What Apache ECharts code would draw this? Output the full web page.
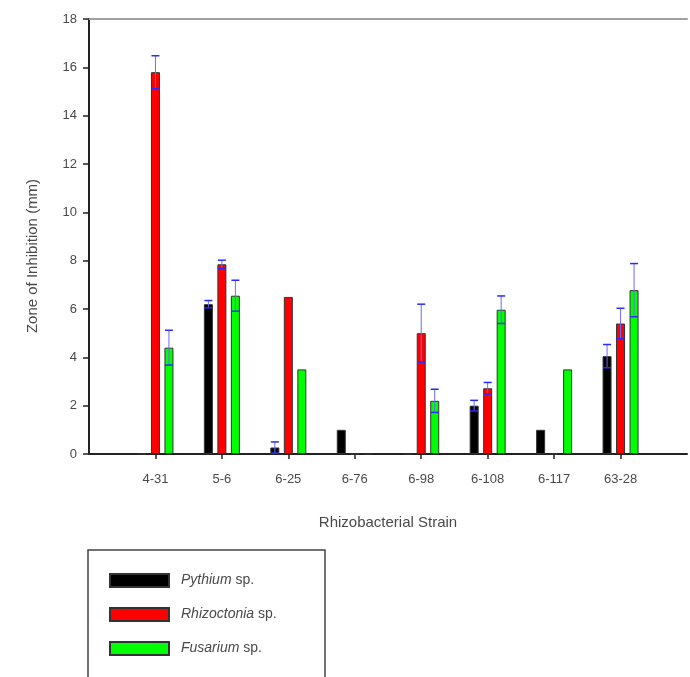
<!DOCTYPE html>
<html>
<head>
<meta charset="utf-8">
<script src="https://cdn.jsdelivr.net/npm/echarts@6/dist/echarts.min.js"></script>
<style>
  html, body { margin: 0; padding: 0; background: #fff; }
  #chart { width: 690px; height: 677px; }
</style>
</head>
<body>
<div id="chart"></div>
<script>
// strains on the x axis
var strains = ["4-31", "5-6", "6-25", "6-76", "6-98", "6-108", "6-117", "63-28"];
var pathogens = ["Pythium", "Rhizoctonia", "Fusarium"];
var yTicks = [0, 2, 4, 6, 8, 10, 12, 14, 16, 18];

// zone of inhibition (mm) per pathogen
var pythium     = [0,    6.2, 0.27, 1.0, 0,   2.0,  1.0, 4.05];
var rhizoctonia = [15.8, 7.85, 6.5, 0,   5.0, 2.72, 0,   5.4];
var fusarium    = [4.4,  6.55, 3.5, 0,   2.2, 5.97, 3.5, 6.78];

// error (+/-)
var pythiumErr     = [0,    0.15, 0.23, 0, 0,    0.22, 0, 0.48];
var rhizoctoniaErr = [0.68, 0.17, 0,    0, 1.2,  0.24, 0, 0.63];
var fusariumErr    = [0.72, 0.64, 0,    0, 0.48, 0.57, 0, 1.1];

var colors = ["#000000", "#ff0000", "#00ff00"];
var textColor = "#4a4a4a";

// one empty slot each side so the groups sit inside the axis like the original
var cats = [""].concat(strains, [""]);
function pad(arr) { return [null].concat(arr, [null]); }

function barSeries(idx, vals) {
  return {
    name: pathogens[idx],
    type: "bar",
    barWidth: 9,
    barGap: "50%",
    itemStyle: { color: colors[idx], borderColor: "#333", borderWidth: 1 },
    data: pad(vals)
  };
}

function errSeries(offset, vals, errs) {
  var data = [];
  vals.forEach(function (v, i) {
    if (errs[i] > 0) data.push([i + 1, v, errs[i]]);
  });
  return {
    type: "custom",
    z: 10,
    silent: true,
    encode: { x: 0, y: 1 },
    data: data,
    renderItem: function (params, api) {
      var x = api.value(0), v = api.value(1), e = api.value(2);
      var top = api.coord([x, v + e]);
      var bot = api.coord([x, v - e]);
      var cx = top[0] + offset;
      var hw = 4;
      return {
        type: "group",
        children: [
          { type: "line", shape: { x1: cx, y1: top[1], x2: cx, y2: bot[1] }, style: { stroke: "#6a6aff", lineWidth: 1 } },
          { type: "line", shape: { x1: cx - hw, y1: top[1], x2: cx + hw, y2: top[1] }, style: { stroke: "#2a2aff", lineWidth: 1.5 } },
          { type: "line", shape: { x1: cx - hw, y1: bot[1], x2: cx + hw, y2: bot[1] }, style: { stroke: "#2a2aff", lineWidth: 1.5 } }
        ]
      };
    }
  };
}

var myChart = echarts.init(document.getElementById("chart"));
var option = {
  backgroundColor: "#fff",
  animation: false,
  textStyle: { fontFamily: "Liberation Sans, Arial, sans-serif" },
  grid: { left: 89, right: 0, top: 19, bottom: 223 },
  legend: {
    data: pathogens,
    orient: "vertical",
    left: 104,
    top: 568,
    itemWidth: 59,
    itemHeight: 13,
    itemGap: 19,
    icon: "rect",
    formatter: function (name) { return "{i|" + name + "} sp."; },
    textStyle: {
      color: textColor,
      fontSize: 14,
      rich: { i: { fontStyle: "italic", fontSize: 14, color: textColor, padding: [0, 0, 0, 7] } }
    }
  },
  xAxis: [
    {
      type: "category",
      data: cats,
      boundaryGap: false,
      axisLine: { lineStyle: { color: "#222", width: 2 } },
      axisTick: {
        length: 5,
        lineStyle: { color: "#222", width: 1.5 },
        interval: function (i, v) { return v !== ""; }
      },
      axisLabel: { color: textColor, fontSize: 13, margin: 19, interval: 0 },
      name: "Rhizobacterial Strain",
      nameLocation: "middle",
      nameGap: 61,
      nameTextStyle: { color: textColor, fontSize: 15 }
    },
    {
      type: "category",
      data: cats,
      boundaryGap: false,
      position: "top",
      axisLine: { lineStyle: { color: "#a0a0a0", width: 2 } },
      axisTick: { show: false },
      axisLabel: { show: false }
    }
  ],
  yAxis: {
    type: "value",
    min: yTicks[0],
    max: yTicks[yTicks.length - 1],
    interval: yTicks[1] - yTicks[0],
    splitLine: { show: false },
    axisLine: { show: true, lineStyle: { color: "#222", width: 2 } },
    axisTick: { show: true, length: 6, lineStyle: { color: "#222", width: 1.5 } },
    axisLabel: { color: textColor, fontSize: 13, margin: 12 }
  },
  graphic: [
    {
      type: "text",
      x: 33,
      y: 256,
      rotation: Math.PI / 2,
      style: {
        text: "Zone of Inhibition (mm)",
        fill: textColor,
        fontSize: 15,
        fontFamily: "Liberation Sans, Arial, sans-serif",
        align: "center",
        verticalAlign: "middle"
      }
    },
    {
      type: "rect",
      shape: { x: 88, y: 550, width: 237, height: 150 },
      style: { fill: "none", stroke: "#444", lineWidth: 1.5 },
      z: -1
    }
  ],
  series: [
    barSeries(0, pythium),
    barSeries(1, rhizoctonia),
    barSeries(2, fusarium),
    errSeries(-13.5, pythium, pythiumErr),
    errSeries(0, rhizoctonia, rhizoctoniaErr),
    errSeries(13.5, fusarium, fusariumErr)
  ]
};
myChart.setOption(option);
</script>
</body>
</html>
